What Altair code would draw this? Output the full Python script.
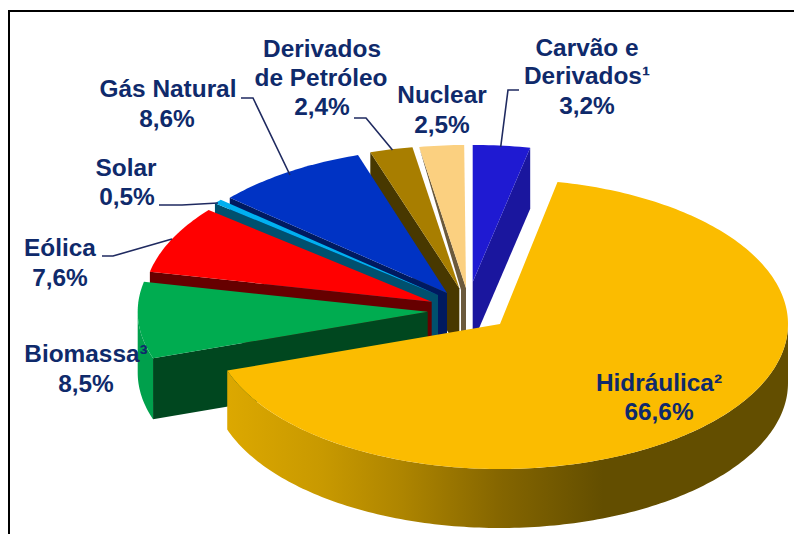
import math
import altair as alt

# ---- values
categories = ["Carvão", "Hidráulica", "Biomassa", "Eólica", "Solar", "Gás Natural", "Derivados", "Nuclear"]
shares = [3.2, 66.6, 8.5, 7.6, 0.5, 8.6, 2.4, 2.5]

# ---- layout / style per slice
apex_x = [472.7, 500, 427.7, 431.7, 438, 447, 459.3, 466]
apex_y = [282, 324, 311.7, 301.7, 295, 293, 288.3, 288]
semi_a = [288, 288, 290, 288, 288, 288, 288, 288]
semi_b = [137, 145, 145, 145, 145, 145, 143, 143]
top_colors = ["#1F1AD2", "#FBBC00", "#00AC50", "#FF0000", "#00B0F0", "#0033C4", "#A87E00", "#FBD080"]
wall_colors = ["#1A169E", "#DCA800", "#00471F", "#660000", "#00506E", "#001A60", "#483800", "#6B5A3C"]
depth = 61
hydro_depth = 59
outer_green = "#00A04C"

label_lines = ["Carvão e", "Derivados¹", "3,2%", "Derivados", "de Petróleo", "2,4%", "Nuclear", "2,5%",
               "Gás Natural", "8,6%", "Solar", "0,5%", "Eólica", "7,6%", "Biomassa³", "8,5%",
               "Hidráulica²", "66,6%"]
label_x = [587, 587, 587, 322, 321, 322, 442, 442, 168, 167, 126, 127, 60, 60, 86, 86, 659, 659]
label_y = [56, 84, 114, 57, 86, 115, 103, 133, 97, 127, 176, 205, 256, 286, 362, 392, 391, 420]

leader_id = [0, 0, 0, 1, 1, 1, 2, 2, 2, 3, 3, 3, 4, 4, 4]
leader_x = [519, 508, 500.7, 354, 366, 392.5, 241, 253, 290, 159, 182, 218, 102, 113, 172]
leader_y = [90, 90, 147, 118, 118, 150, 98, 98, 175, 205, 205, 203, 256, 256, 239]

W, H = 786, 526
OFF = 8


def pt(i, deg, dy=0.0):
    r = math.radians(deg)
    return (apex_x[i] + semi_a[i] * math.sin(r) - OFF,
            apex_y[i] - semi_b[i] * math.cos(r) + dy - OFF)


def arc(i, d0, d1, dy=0.0):
    n = max(3, int(abs(d1 - d0) / 1.0))
    return [pt(i, d0 + (d1 - d0) * k / n, dy) for k in range(n + 1)]


def apex(i, dy=0.0, dx=0.0):
    return (apex_x[i] - OFF + dx, apex_y[i] - OFF + dy)


def feature(points, fill):
    ring = [list(p) for p in points]
    ring.append(ring[0])
    return {"type": "Feature", "properties": {"fill": fill},
            "geometry": {"type": "Polygon", "coordinates": [ring]}}


starts, ends, acc = [], [], 0.0
for s in shares:
    starts.append(acc)
    acc += s * 3.6
    ends.append(acc)


def radial_wall(i, deg):
    return feature([apex(i), pt(i, deg), pt(i, deg, depth), apex(i, depth)], wall_colors[i])


def top(i):
    return feature([apex(i)] + arc(i, starts[i], ends[i]), top_colors[i])


back = []
# Carvão: wall on its clockwise edge
back += [radial_wall(0, ends[0]), top(0)]
# Nuclear: narrow wall that tapers to its outer corner
back += [feature([apex(7), pt(7, starts[7]), apex(7, 2, -5), apex(7, depth, -5), apex(7, depth)], wall_colors[7]), top(7)]
# Derivados, Gás, Solar, Eólica, Biomassa, back to front
for i in [6, 5, 4, 3, 2]:
    back += [radial_wall(i, starts[i])]
    if i == 2:
        back += [feature(arc(2, starts[2], 270) + arc(2, 270, starts[2], depth), outer_green)]
    back += [top(i)]

hydro_wall = arc(1, 90, ends[1]) + arc(1, ends[1], 90, hydro_depth)
hydro_top = [top(1)]


def geo(features):
    return alt.InlineData(values={"type": "FeatureCollection", "features": features},
                          format=alt.DataFormat(type="json", property="features"))


projection = alt.Projection(type="identity", scale=1, translate=[0, 0])
x_enc = alt.X("x:Q", scale=alt.Scale(domain=[0, W]), axis=None)
y_enc = alt.Y("y:Q", scale=alt.Scale(domain=[H, 0]), axis=None)

back_layer = alt.Chart(geo(back)).mark_geoshape(strokeWidth=0).encode(
    fill=alt.Fill("properties.fill:N", scale=None)).project(**projection.to_dict())

wall_layer = alt.Chart(geo([feature(hydro_wall, "#000")])).mark_geoshape(
    strokeWidth=0,
    fill=alt.Gradient(gradient="linear", x1=0, x2=1, y1=0, y2=0, stops=[
        alt.GradientStop(offset=0.0, color="#DCA800"),
        alt.GradientStop(offset=0.17, color="#C89900"),
        alt.GradientStop(offset=0.31, color="#AE8500"),
        alt.GradientStop(offset=0.49, color="#846500"),
        alt.GradientStop(offset=0.67, color="#634E00"),
        alt.GradientStop(offset=1.0, color="#634E00"),
    ])).project(**projection.to_dict())

top_layer = alt.Chart(geo(hydro_top)).mark_geoshape(strokeWidth=0, fill=top_colors[1]).project(**projection.to_dict())

frame_layer = alt.Chart(alt.Data(values=[
    {"x": 1, "y": H, "k": 0, "o": 0}, {"x": 1, "y": 3, "k": 0, "o": 1}, {"x": W, "y": 3, "k": 0, "o": 2}])).mark_line(
    color="#000000", strokeWidth=2).encode(x=x_enc, y=y_enc, order="o:Q", detail="k:N")

leader_rows = [{"id": a, "o": n, "x": b - OFF, "y": c - OFF}
               for n, (a, b, c) in enumerate(zip(leader_id, leader_x, leader_y))]
leader_layer = alt.Chart(alt.Data(values=leader_rows)).mark_line(
    color="#1F2A60", strokeWidth=1.6).encode(x=x_enc, y=y_enc, detail="id:N", order="o:Q")

text_rows = [{"t": t, "x": a - OFF, "y": b - OFF} for t, a, b in zip(label_lines, label_x, label_y)]
text_layer = alt.Chart(alt.Data(values=text_rows)).mark_text(
    font="Liberation Sans", fontWeight="bold", fontSize=24.4, color="#0F2A6B",
    align="center", baseline="alphabetic").encode(x=x_enc, y=y_enc, text="t:N")

chart = alt.layer(back_layer, wall_layer, top_layer, frame_layer, leader_layer, text_layer).properties(
    width=W, height=H, padding=0, background="#FFFFFF",
    autosize=alt.AutoSizeParams(type="none", contains="padding")
).configure_view(stroke=None)

chart.save("out.html", embed_options={"renderer": "svg", "actions": False})
